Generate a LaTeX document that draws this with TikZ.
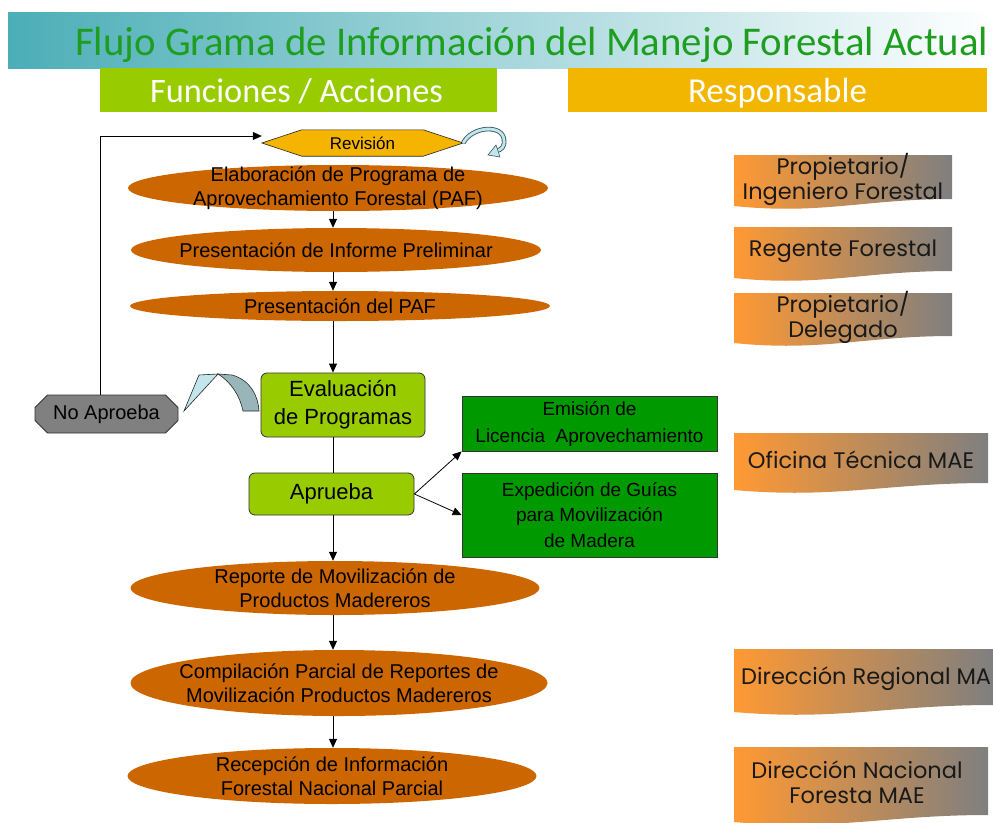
\documentclass[tikz,border=0pt]{standalone}
\usepackage{fontspec}
\usepackage{graphicx}
\setmainfont{Liberation Sans}
\newfontfamily\titlefont{Carlito}
\newfontfamily\respfont{Poppins}
\usetikzlibrary{arrows.meta,shapes.geometric,shapes.misc,backgrounds}
\definecolor{tealc}{HTML}{4BAEB7}
\definecolor{titlegreen}{HTML}{1E9E1E}
\definecolor{limeg}{HTML}{99CC00}
\definecolor{heady}{HTML}{F2B600}
\definecolor{revy}{HTML}{F5B400}
\definecolor{ellor}{HTML}{CC6600}
\definecolor{dgreen}{HTML}{009900}
\definecolor{grayc}{HTML}{808080}
\definecolor{respL}{HTML}{FF9933}
\definecolor{respR}{HTML}{7F7F7F}
\definecolor{curlL}{HTML}{C3E6EC}
\definecolor{curlD}{HTML}{3C5A66}
\definecolor{bandB}{HTML}{98B6BA}
\newcommand\respshape[4]{%
  \pgfmathsetmacro\ra{#1+0.4*(#3-#1)}%
  \pgfmathsetmacro\rb{#1+0.6*(#3-#1)}%
  \shade[left color=respL,right color=respR] (#1,#2) -- (#3,#2) -- (#3,#4) .. controls (\rb,#4) and (\ra,#4+16) .. (#1,#4+7) -- cycle;}
\begin{document}
\begin{tikzpicture}[x=1pt,y=-1pt,
  ellshape/.style={ellipse, fill=ellor, inner sep=0pt},
  elltext/.style={align=center, inner sep=0pt, font=\fontsize{20}{24.5}\selectfont},
  limebox/.style={draw=black!80, fill=limeg, rounded corners=6pt, align=center, inner sep=0pt, line width=0.8pt, font=\fontsize{22}{28}\selectfont},
  gbox/.style={draw=black!80, fill=dgreen, align=center, inner sep=0pt, line width=0.8pt},
  arr/.style={-{Triangle[length=9pt,width=8pt]}, line width=0.8pt},
  conn/.style={line width=0.8pt},
  resp/.style={font=\respfont\fontsize{22.5}{25}\selectfont, align=center, text=black!90, inner sep=0pt},
  header/.style={inner sep=0pt, text=white}]
\useasboundingbox (0,0) rectangle (993,822);
% banner
\shade[left color=tealc, right color=white] (8,12) rectangle (993,68);
\node[anchor=base west, text=titlegreen, inner sep=0pt] (title) at (75,55)
  {\resizebox{913pt}{!}{\titlefont\fontsize{38}{40}\selectfont Flujo Grama de Información del Manejo Forestal Actual}};
\node[fill=limeg, minimum width=397pt, minimum height=44pt, inner sep=0pt] (hfun) at (298.5,90) {};
\node[header, anchor=base] (hfunt) at (296.5,102) {\resizebox{293pt}{!}{\titlefont\fontsize{30}{32}\selectfont Funciones / Acciones}};
\node[fill=heady, minimum width=419pt, minimum height=44pt, inner sep=0pt] (hres) at (777.5,90) {};
\node[header, anchor=base] (hrest) at (777.5,102) {\resizebox{179pt}{!}{\titlefont\fontsize{30}{32}\selectfont Responsable}};

% revision hexagon
\node[minimum width=201pt, minimum height=26pt, inner sep=0pt, font=\fontsize{17}{20}\selectfont] (rev) at (362.5,143) {Revisión};
\begin{scope}[on background layer]
\filldraw[fill=revy, draw=black!85, line width=0.6pt] (rev.west) -- ([xshift=40pt]rev.north west) -- ([xshift=-40pt]rev.north east) -- (rev.east) -- ([xshift=-40pt]rev.south east) -- ([xshift=40pt]rev.south west) -- cycle;
\end{scope}
% curly arrow
\draw[line width=4.6pt, draw=curlD] (rev.east) .. controls (472,126) and (503,124) .. (504,140) .. controls (505,147) and (501,150) .. (496,151);
\draw[line width=2.8pt, draw=curlL] (rev.east) .. controls (472,126) and (503,124) .. (504,140) .. controls (505,147) and (501,150) .. (496,151);
\filldraw[fill=curlL, draw=curlD, line width=0.6pt] (488,155) -- (496,145) -- (500,157) -- cycle;

% ellipses
\coordinate (spine) at (333,0);
\node[ellshape, minimum width=420pt, minimum height=46pt] (e1) at (338,188) {};
\node[elltext] (e1t) at (e1) {Elaboración de Programa de\\Aprovechamiento Forestal (PAF)};
\node[ellshape, minimum width=410pt, minimum height=44pt] (e2) at (336,250) {};
\node[elltext] (e2t) at (e2) {Presentación de Informe Preliminar};
\node[ellshape, minimum width=420pt, minimum height=30pt] (e3) at (340,306) {};
\node[elltext] (e3t) at (e3) {Presentación del PAF};

\node[limebox, minimum width=164pt, minimum height=64pt] (eval) at (343,405) {Evaluación\\de Programas};
\node[limebox, minimum width=165pt, minimum height=42pt] (apr) at (331.5,494) {Aprueba};
\node[chamfered rectangle, chamfered rectangle xsep=9pt, draw=black!80, fill=grayc, line width=0.8pt, minimum width=143pt, minimum height=38pt, inner sep=0pt, font=\fontsize{20}{24}\selectfont] (noap) at (106.5,414) {No Aproeba};

\node[gbox, minimum width=255pt, minimum height=55pt, font=\fontsize{19}{27}\selectfont] (emi) at (589.5,423.5) {Emisión de\\Licencia\ \ Aprovechamiento};
\node[gbox, minimum width=255pt, minimum height=84pt, font=\fontsize{19}{25.5}\selectfont] (exp) at (589.5,515) {Expedición de Guías\\para Movilización\\de Madera};

\node[ellshape, minimum width=409pt, minimum height=54pt] (e4) at (335,588) {};
\node[elltext] (e4t) at (e4) {Reporte de Movilización de\\Productos Madereros};
\node[ellshape, minimum width=417pt, minimum height=66pt] (e5) at (339,683) {};
\node[elltext] (e5t) at (e5) {Compilación Parcial de Reportes de\\Movilización Productos Madereros};
\node[ellshape, minimum width=409pt, minimum height=56pt] (e6) at (332,776) {};
\node[elltext] (e6t) at (e6) {Recepción de Información\\Forestal Nacional Parcial};

% connectors
\draw[arr] (e1.south -| spine) -- (e2.north -| spine);
\draw[arr] (e2.south -| spine) -- (e3.north -| spine);
\draw[arr] (e3.south -| spine) -- (eval.north -| spine);
\draw[conn] (eval.south -| spine) -- (apr.north -| spine);
\draw[arr] (apr.south -| spine) -- (e4.north -| spine);
\draw[arr] (e4.south -| spine) -- (e5.north -| spine);
\draw[arr] (e5.south -| spine) -- (e6.north -| spine);
\draw[arr] (apr.east) -- (emi.south west);
\draw[arr] (apr.east) -- (exp.west);
\coordinate (fb) at (100,136);
\draw[arr] (noap.north -| fb) -- (fb) -- (fb -| rev.west);

% block curved arrow
\filldraw[fill=bandB, draw=black!85, line width=0.6pt] (218,374) -- (232,375) .. controls (250,380) and (258,395) .. (259,411) -- (243,411) .. controls (240,396) and (231,382) .. (218,374) -- cycle;
\filldraw[fill=curlL, draw=black!85, line width=0.6pt] (184,411) -- (199,375) -- (218,374) -- cycle;

% responsables
\respshape{734}{155}{952}{199}
\node[resp] (r1) at (843,179) {Propietario/\\Ingeniero Forestal};
\respshape{734}{227}{952}{271}
\node[resp] (r2) at (843,251) {Regente Forestal};
\respshape{734}{293}{952}{336}
\node[resp] (r3) at (843,317) {Propietario/\\Delegado};
\respshape{734}{433}{988}{483}
\node[resp] (r4) at (861,460) {Oficina Técnica MAE};
\respshape{734}{649}{993}{705}
\node[resp, anchor=west] (r5) at (741,679) {Dirección Regional MA};
\respshape{734}{747}{988}{815}
\node[resp] (r6) at (857,782) {Dirección Nacional\\Foresta MAE};
\end{tikzpicture}
\end{document}
